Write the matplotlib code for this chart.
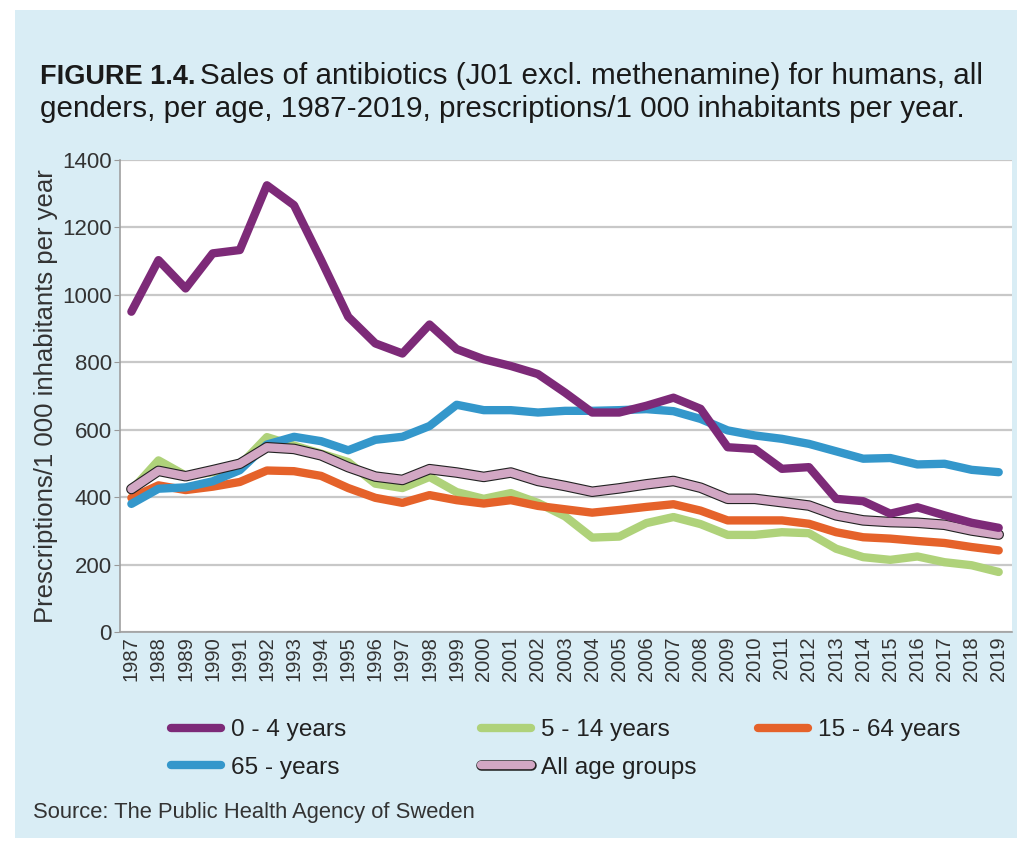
import numpy as np
import matplotlib
matplotlib.use("Agg")
from matplotlib import pyplot as plt
from matplotlib import patheffects as pe
from matplotlib.patches import Rectangle

# data
years = list(range(1987, 2020))

age_0_4 = [950, 1103, 1019, 1123, 1133, 1325, 1266, 1103, 935, 856, 826,
           912, 839, 809, 789, 765, 710, 651, 651, 671, 695, 662,
           548, 543, 484, 489, 395, 388, 351, 370, 346, 324, 309]
age_5_14 = [420, 509, 464, 474, 494, 578, 553, 529, 504, 440, 427,
            460, 415, 395, 412, 383, 343, 280, 283, 323, 341, 320,
            288, 288, 296, 293, 247, 222, 214, 224, 207, 198, 178]
age_15_64 = [398, 435, 421, 431, 445, 479, 477, 463, 427, 398, 383,
             406, 391, 381, 391, 374, 364, 354, 362, 371, 379, 360,
             331, 331, 331, 321, 296, 281, 277, 270, 264, 252, 242]
age_65 = [380, 425, 429, 447, 480, 556, 579, 566, 539, 570, 579,
          611, 674, 658, 658, 651, 656, 656, 658, 661, 655, 632,
          598, 583, 573, 558, 536, 514, 516, 497, 499, 481, 474]
all_ages = [424, 478, 462, 480, 499, 548, 543, 524, 489, 461, 451,
            483, 473, 460, 473, 448, 433, 416, 426, 438, 448, 428,
            395, 395, 385, 375, 346, 331, 326, 324, 318, 301, 289]

labels = ["0 - 4 years", "5 - 14 years", "15 - 64 years", "65 - years", "All age groups"]
colors = ["#7d2a78", "#afd27a", "#e5622a", "#3497cb", "#d2a7c4"]

plt.rcParams["font.family"] = ["Liberation Sans", "DejaVu Sans"]

W, H = 1017, 844
fig = plt.figure(figsize=(W / 100, H / 100), dpi=100)
fig.patch.set_facecolor("white")
fig.patches.append(Rectangle((15 / W, 1 - 838 / H), 1, (838 - 10) / H,
                             transform=fig.transFigure, facecolor="#d9edf5",
                             edgecolor="none", zorder=-10))

ax = fig.add_axes([120 / W, 1 - 632 / H, (1012 - 120) / W, (632 - 160) / H])
ax.set_facecolor("white")

x = np.arange(len(years))
series = [age_0_4, age_5_14, age_15_64, age_65, all_ages]
zorders = [7, 3, 4, 5, 6]
lines = []
for s, c, lab, z in zip(series, colors, labels, zorders):
    if lab == "All age groups":
        ln, = ax.plot(x, s, color=c, lw=6.0, label=lab, zorder=z,
                      solid_capstyle="round", solid_joinstyle="round",
                      path_effects=[pe.Stroke(linewidth=7.6, foreground="#222222"), pe.Normal()])
    else:
        ln, = ax.plot(x, s, color=c, lw=6, label=lab, zorder=z,
                      solid_capstyle="round", solid_joinstyle="round")
    lines.append(ln)

ax.set_xlim(-0.42, 32.49)
ax.set_ylim(0, 1400)
ax.set_yticks(range(0, 1401, 200))
ax.set_xticks(x)
ax.set_xticklabels([str(y) for y in years], rotation=90, fontsize=14.5, color="#333333")
ax.tick_params(axis="y", labelsize=16, labelcolor="#333333", length=4, color="#999999", pad=2)
ax.tick_params(axis="x", length=0, pad=3)
ax.grid(axis="y", color="#c8c8c8", lw=1.6)
ax.set_axisbelow(True)
for sp in ["top", "right"]:
    ax.spines[sp].set_visible(False)
for sp in ["left", "bottom"]:
    ax.spines[sp].set_color("#a0a0a0")
    ax.spines[sp].set_linewidth(1.2)
ax.set_ylabel("Prescriptions/1 000 inhabitants per year", fontsize=18.5, color="#333333", labelpad=3)

# title, bold prefix then regular text
t1 = fig.text(40 / W, 1 - 84 / H, "FIGURE 1.4.", fontsize=19.5, fontweight="bold",
              color="#1a1a1a", va="baseline")
fig.canvas.draw()
bb = t1.get_window_extent()
fig.text(bb.x1 / W + 5 / W, 1 - 84 / H,
         "Sales of antibiotics (J01 excl. methenamine) for humans, all",
         fontsize=21.3, color="#1a1a1a", va="baseline")
fig.text(40 / W, 1 - 117 / H,
         "genders, per age, 1987-2019, prescriptions/1 000 inhabitants per year.",
         fontsize=21.3, color="#1a1a1a", va="baseline")

# legend in three columns
cols = [[0, 3], [1, 4], [2]]
xs = [159, 469, 746]
for idx, xp in zip(cols, xs):
    leg = fig.legend([lines[i] for i in idx], [labels[i] for i in idx],
                     loc="upper left", bbox_to_anchor=(xp / W, 1 - 707 / H),
                     frameon=False, fontsize=17.6, handlelength=2.05,
                     handletextpad=0.4, labelspacing=0.62, borderpad=0)
    for t in leg.get_texts():
        t.set_color("#222222")

fig.text(33 / W, 1 - 818 / H, "Source: The Public Health Agency of Sweden",
         fontsize=15.8, color="#333333", va="baseline")

fig.savefig("out.png", dpi=100, facecolor=fig.get_facecolor())
